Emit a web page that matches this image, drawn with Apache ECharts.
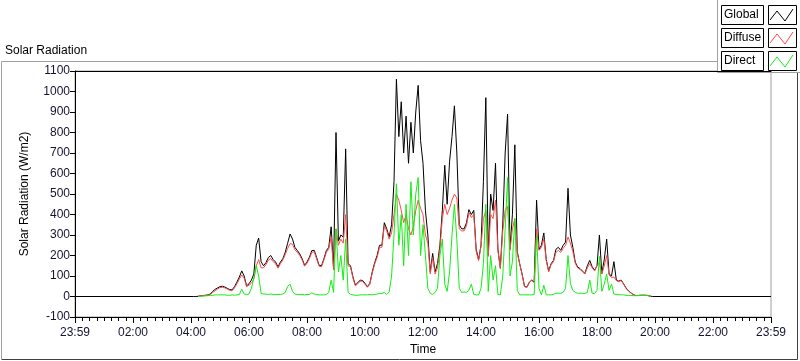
<!DOCTYPE html>
<html><head><meta charset="utf-8">
<script src="https://cdn.jsdelivr.net/npm/echarts@6/dist/echarts.min.js"></script>
<style>html,body{margin:0;padding:0;background:#fff}#c{width:800px;height:361px}</style>
</head><body><div id="c"></div>
<script>
// Sample times: minutes of day, 04:00 .. 19:55 every 5 minutes (16 hours x 12 samples)
const dayStartMin = 240, stepMin = 5;
// Tick labels for the x axis
const xTickLabels = ['23:59','02:00','04:00','06:00','08:00','10:00','12:00','14:00','16:00','18:00','20:00','22:00','23:59'];
const yTicks = [-100,0,100,200,300,400,500,600,700,800,900,1000,1100];
const seriesNames = ['Global','Diffuse','Direct'];

// Global radiation (W/m2), one row per hour 04..19
const globalVals = [
  0,0,0,1,4,5,6,8,12,25,35,42,
  48,50,46,40,34,32,48,70,95,125,100,52,
  62,80,110,250,285,170,150,165,190,200,180,168,
  144,168,184,216,260,305,280,240,224,208,184,152,
  168,192,224,225,190,152,150,184,224,240,340,140,
  800,270,300,290,720,160,150,96,56,67,80,78,
  64,48,64,120,165,200,250,250,360,330,290,350,
  560,1060,780,950,700,880,650,850,700,900,1030,760,
  650,420,300,120,210,120,160,250,420,640,450,660,
  780,930,700,350,330,330,360,424,400,420,230,180,
  250,560,970,200,500,420,650,230,140,350,700,890,
  232,400,740,220,160,110,50,45,70,80,70,470,
  230,250,310,180,125,160,176,230,240,225,250,265,
  528,300,240,168,144,136,124,112,150,176,145,128,
  150,300,112,180,280,110,100,170,80,75,80,62,
  42,28,18,9,5,5,6,6,6,5,2,0
];
// Diffuse radiation
const diffuseVals = [
  null,null,null,1,3,4,5,6,10,20,28,36,
  44,45,42,36,30,28,42,62,85,105,90,48,
  55,65,85,150,180,140,140,155,178,185,170,160,
  138,160,178,205,235,258,255,228,215,200,178,148,
  162,185,215,218,182,148,145,178,215,232,290,130,
  330,250,280,260,400,150,145,90,52,62,75,74,
  60,45,60,115,158,190,240,240,345,320,280,310,
  400,500,470,420,360,400,330,300,340,420,470,430,
  400,300,260,110,190,110,140,230,380,450,400,430,
  470,500,480,330,320,320,345,410,385,400,220,175,
  245,380,420,195,400,380,470,225,135,320,420,440,
  225,330,380,210,160,108,48,44,68,78,68,330,
  225,240,280,175,120,155,170,215,225,215,235,250,
  290,260,220,162,140,132,120,110,140,160,140,125,
  150,165,110,150,200,105,92,95,78,72,78,60,
  40,27,17,9,5,5,6,6,6,5,2,null
];
// Direct radiation
const directVals = [
  null,null,null,0,1,2,3,4,5,6,8,8,
  8,8,8,6,6,8,6,8,10,35,12,10,
  12,40,90,150,100,15,12,12,10,12,10,10,
  10,10,12,20,50,60,25,12,10,10,10,8,
  10,10,18,12,10,8,8,8,10,20,80,20,
  330,120,200,80,280,20,10,8,6,6,8,8,
  8,8,10,8,10,12,15,15,20,10,22,100,
  300,550,250,400,150,450,200,560,300,500,580,200,
  350,200,40,15,10,20,40,200,280,60,25,120,
  300,450,280,40,20,22,20,30,60,10,8,8,
  40,160,450,25,200,80,150,10,8,100,330,580,
  100,170,380,30,8,8,8,8,8,8,10,300,
  40,8,55,8,8,8,10,16,16,16,20,40,
  200,64,30,20,16,16,15,15,20,80,15,15,
  30,195,25,60,110,30,60,12,10,10,8,8,
  6,5,5,4,4,4,5,5,5,4,1,null
];
// Night values (zero) at the day edges for the global trace
const nightEdges = [[0,0],[1440,0]];

function toPairs(vals){
  return vals.map((v,i)=>[dayStartMin + i*stepMin, v]);
}
const gData = [nightEdges[0]].concat(toPairs(globalVals)).concat([[dayStartMin+globalVals.length*stepMin,0], nightEdges[1]]);
const dData = toPairs(diffuseVals);
const sData = toPairs(directVals);

const labelColor = '#141432';
const font = 'Liberation Sans, Arial, sans-serif';
const chart = echarts.init(document.getElementById('c'), null, {renderer:'canvas'});

function swatch(y, color){
  return [
    {type:'rect', shape:{x:768.5,y:y+0.5,width:28,height:19}, style:{fill:'#fff',stroke:'#000',lineWidth:1}},
    {type:'polyline', shape:{points:[[770,y+15],[777,y+6],[785,y+16],[793,y+4]]}, style:{stroke:color,lineWidth:1,fill:null}}
  ];
}
function labelBox(y, text){
  return [
    {type:'rect', shape:{x:721.5,y:y+0.5,width:42,height:19}, style:{fill:'#fff',stroke:'#000',lineWidth:1}},
    {type:'text', style:{x:724,y:y+10,text:text,font:'12px '+font,fill:'#000',textVerticalAlign:'middle'}}
  ];
}
const colors = ['#000000','#ff4a4a','#10f010'];

const graphics = [
  // outer panel frame
  {type:'polyline', shape:{points:[[1.5,359],[1.5,61.5],[797,61.5]]}, style:{stroke:'#a0a0a0',lineWidth:1,fill:null}},
  {type:'polyline', shape:{points:[[1.5,359.5],[797.5,359.5],[797.5,61.5]]}, style:{stroke:'#404040',lineWidth:1,fill:null}},
  {type:'text', style:{x:5,y:51,text:'Solar Radiation',font:'12px '+font,fill:'#000',textVerticalAlign:'middle'}},
  // legend panel
  {type:'rect', shape:{x:717.5,y:-1,width:90,height:73.5}, style:{fill:'#fff',stroke:'#a0a0a0',lineWidth:1}}
].concat(labelBox(5,'Global'), swatch(5,colors[0]), labelBox(28,'Diffuse'), swatch(28,colors[1]), labelBox(51,'Direct'), swatch(51,colors[2]));

chart.setOption({
  animation:false,
  textStyle:{fontFamily:font},
  grid:{left:75, top:71, width:696, height:250, show:true, borderColor:'#a0a0a0', borderWidth:1, backgroundColor:'#fff'},
  xAxis:[{
    type:'value', min:0, max:1440, interval:120,
    axisLine:{show:true,onZero:false,lineStyle:{color:'#000',width:1}},
    axisTick:{show:true,length:6,lineStyle:{color:'#000'}},
    minorTick:{show:true,splitNumber:8,length:4,lineStyle:{color:'#000'}},
    splitLine:{show:false},
    axisLabel:{color:labelColor,fontSize:12,margin:10,fontFamily:font,
      formatter:function(v){const i=Math.round(v/120);return xTickLabels[i]||'';}},
    name:'Time', nameLocation:'middle', nameGap:27,
    nameTextStyle:{color:'#000',fontSize:12,fontFamily:font}
  },{
    type:'value', min:0, max:1440, position:'top',
    axisLine:{show:true,onZero:false,lineStyle:{color:'#000',width:1}},
    axisTick:{show:false}, axisLabel:{show:false}, splitLine:{show:false}
  }],
  yAxis:{
    type:'value', min:yTicks[0], max:yTicks[yTicks.length-1], interval:100,
    axisLine:{show:true,onZero:false,lineStyle:{color:'#000',width:1}},
    axisTick:{show:true,length:5,lineStyle:{color:'#000'}},
    splitLine:{show:false},
    axisLabel:{color:labelColor,fontSize:12,margin:5,fontFamily:font,formatter:function(v){return String(v);}},
    name:'Solar Radiation (W/m2)', nameLocation:'middle', nameGap:44, nameRotate:90,
    nameTextStyle:{color:'#000',fontSize:12,fontFamily:font}
  },
  series:[
    {name:seriesNames[0], type:'line', data:gData, showSymbol:false, connectNulls:false, lineStyle:{color:colors[0],width:1}, itemStyle:{color:colors[0]}, z:2},
    {name:seriesNames[1], type:'line', data:dData, showSymbol:false, connectNulls:false, lineStyle:{color:colors[1],width:1}, itemStyle:{color:colors[1]}, z:3},
    {name:seriesNames[2], type:'line', data:sData, showSymbol:false, connectNulls:false, lineStyle:{color:colors[2],width:1}, itemStyle:{color:colors[2]}, z:4}
  ],
  graphic:graphics
});
</script>
</body></html>
